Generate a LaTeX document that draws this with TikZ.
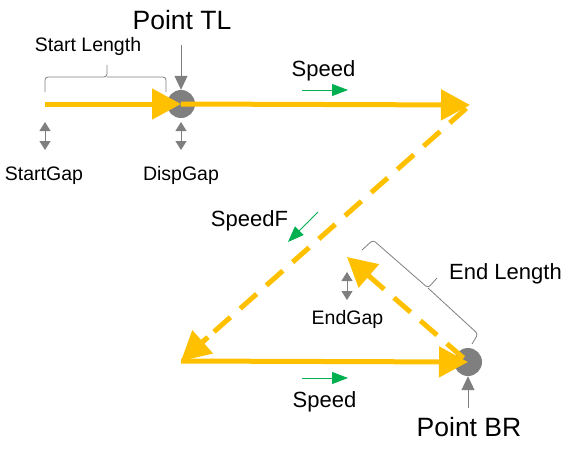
\documentclass[tikz,border=0pt]{standalone}
\usepackage{fontspec}
\setmainfont{Liberation Sans}
\usetikzlibrary{arrows.meta, positioning, calc}
\definecolor{gold}{HTML}{FFC000}
\definecolor{midgray}{HTML}{7F7F7F}
\definecolor{okgreen}{HTML}{00B050}

\begin{document}
\begin{tikzpicture}[
    x=1pt, y=-1pt,
    ptdot/.style={circle, fill=midgray, minimum size=28pt, inner sep=0pt},
    smalllbl/.style={font=\fontsize{19.5}{22}\selectfont, inner sep=0pt, anchor=base},
    lbl/.style={font=\fontsize{22}{24}\selectfont, inner sep=0pt, anchor=base},
    biglbl/.style={font=\fontsize{26.5}{28}\selectfont, inner sep=0pt, anchor=base},
    goldarrow/.style={-{Triangle[length=29pt,width=30pt]}, line width=5pt, draw=gold},
    dashline/.style={line width=5pt, draw=gold, dash pattern=on 22pt off 13pt},
    grayarrow/.style={-{Triangle[length=14pt,width=13pt]}, line width=1pt, draw=midgray},
    gaparrow/.style={{Triangle[length=9pt,width=11pt]}-{Triangle[length=9pt,width=11pt]}, line width=1pt, draw=midgray},
    greenarrow/.style={-{Triangle[length=16pt,width=12pt]}, line width=1pt, draw=okgreen},
    brace/.style={draw=midgray, line width=0.8pt, rounded corners=3pt}
]
\useasboundingbox (0,0) rectangle (573,448);

% ========== Puntos ==========
\node[ptdot] (ptTL) at (181,104) {};
\node[ptdot] (ptBR) at (468,362) {};
\coordinate (start) at (45,104);
\coordinate (corTR) at (470,105);
\coordinate (corBL) at (181,361);
\coordinate (endE) at (347,257);

% Trayectoria
\draw[goldarrow] (start) -- (ptTL.center);
\draw[goldarrow] (ptTL.center) -- (corTR);
\draw[dashline, shorten <=5pt, shorten >=24pt] (corTR) -- (corBL);
\draw[goldarrow, shorten <=-2pt] ($(corBL)!34pt!(corTR)$) -- (corBL);
\draw[goldarrow] (corBL) -- (ptBR.center);
\draw[dashline, shorten <=6pt, shorten >=24pt] (ptBR.center) -- (endE);
\draw[goldarrow] ($(endE)!31pt!(ptBR.center)$) -- (endE);

% ========== Etiquetas ==========
\node[biglbl] (lblTL) at (182,29) {Point TL};
\node[biglbl] (lblBR) at (469,436) {Point BR};
\coordinate (inTL) at (181,45);
\coordinate (inBR) at (468,408);
\draw[grayarrow] (inTL) -- (ptTL.north);
\draw[grayarrow] (inBR) -- (ptBR.south);

\node[smalllbl] (lenS) at (88,51) {Start Length};
\node[lbl] (lenE) at (505.5,279) {End Length};
\draw[brace] (45,92) |- (107,77) -- (107,65);
\draw[brace] (107,77) -| (166,92);
\draw[brace] (362,250) -- (373,240) -- (428,288) -- (437,278);
\draw[brace] (428,288) -- (478,334) -- (472,344);

% Gaps
\node[smalllbl] (gapS) at (44,180) {StartGap};
\node[smalllbl] (gapD) at (181,180) {DispGap};
\node[smalllbl] (gapE) at (347.5,324) {EndGap};
\coordinate (gS1) at (45,122);  \coordinate (gS2) at (45,150);
\coordinate (gD1) at (181,122); \coordinate (gD2) at (181,150);
\coordinate (gE1) at (347,272); \coordinate (gE2) at (347,300);
\draw[gaparrow] (gS1) -- (gS2);
\draw[gaparrow] (gD1) -- (gD2);
\draw[gaparrow] (gE1) -- (gE2);

% Velocidades
\node[lbl] (spdT) at (323.5,76) {Speed};
\node[lbl] (spdF) at (249.5,226) {SpeedF};
\node[lbl] (spdB) at (324.5,407) {Speed};
\coordinate (vT1) at (302,90);  \coordinate (vT2) at (348,90);
\coordinate (vF1) at (318,212); \coordinate (vF2) at (288,242);
\coordinate (vB1) at (302,378); \coordinate (vB2) at (348,378);
\draw[greenarrow] (vT1) -- (vT2);
\draw[greenarrow] (vF1) -- (vF2);
\draw[greenarrow] (vB1) -- (vB2);

\end{tikzpicture}
\end{document}
